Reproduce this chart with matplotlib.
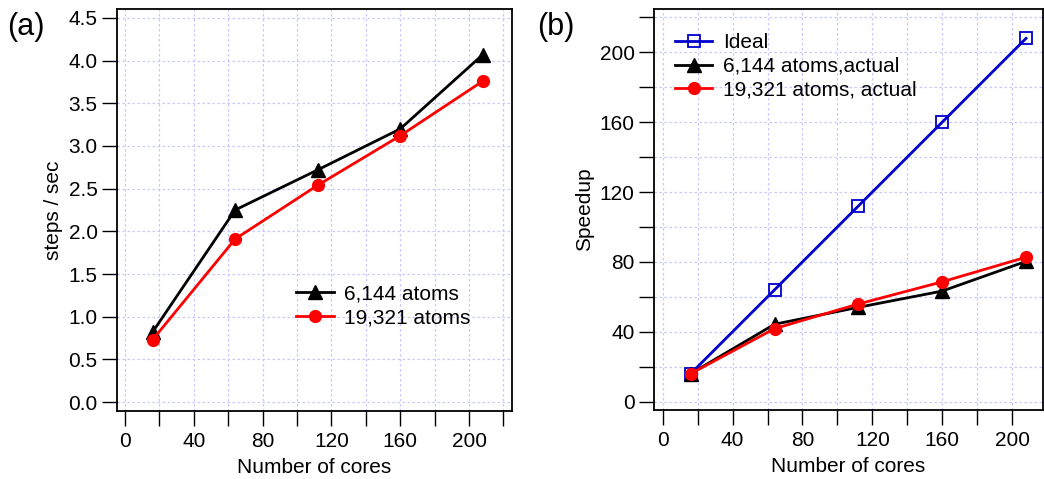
import matplotlib
matplotlib.use("Agg")
import matplotlib.pyplot as plt
from matplotlib.ticker import MultipleLocator, FormatStrFormatter

plt.rcParams['font.family'] = ['Liberation Sans', 'DejaVu Sans']

cores = [16, 64, 112, 160, 208]
steps_6144 = [0.82, 2.25, 2.72, 3.20, 4.07]
steps_19321 = [0.73, 1.91, 2.54, 3.12, 3.76]

ideal = [16, 64, 112, 160, 208]
speedup_6144 = [16, 44.3, 54, 63.3, 80.3]
speedup_19321 = [16, 41.8, 55.9, 68.6, 82.7]

grid_color = '#c8c8ff'
fs = 15

fig = plt.figure(figsize=(10.44, 4.79), dpi=100)
ax1 = fig.add_axes([117/1044, 1-411/479, 395/1044, 402/479])
ax2 = fig.add_axes([654/1044, 1-410/479, 389/1044, 401/479])

def style(ax):
    for s in ax.spines.values():
        s.set_linewidth(1.3)
    ax.xaxis.set_major_locator(MultipleLocator(40))
    ax.xaxis.set_minor_locator(MultipleLocator(20))
    ax.tick_params(axis='both', which='both', direction='out', length=11, width=1.0,
                   labelsize=fs, pad=3)
    ax.tick_params(axis='x', which='both', pad=4)
    ax.grid(True, which='both', color=grid_color, linestyle=(0, (2, 2)), linewidth=0.9)
    ax.set_axisbelow(True)
    ax.set_xlabel('Number of cores', fontsize=fs, labelpad=5)

leg_kw = dict(frameon=False, fontsize=fs, handlelength=1.8, handletextpad=0.5,
              labelspacing=0.22, borderaxespad=0)

# Panel (a)
ax1.plot(cores, steps_6144, color='black', lw=2, marker='^', ms=10, label='6,144 atoms')
ax1.plot(cores, steps_19321, color='red', lw=2, marker='o', ms=8.5, label='19,321 atoms')
ax1.set_xlim(-4.7, 225)
ax1.set_ylim(-0.105, 4.605)
ax1.yaxis.set_major_locator(MultipleLocator(0.5))
ax1.yaxis.set_major_formatter(FormatStrFormatter('%.1f'))
style(ax1)
ax1.yaxis.set_minor_locator(MultipleLocator(0.5))
ax1.set_ylabel('steps / sec', fontsize=fs, labelpad=4)
ax1.legend(loc='upper left', bbox_to_anchor=(0.433, 0.335), **leg_kw)
fig.text(0.007, 0.944, '(a)', fontsize=22, ha='left', va='center')

# Panel (b)
ax2.plot(cores, ideal, color='#0000cc', lw=2, marker='s', ms=8.5, mfc='none', mew=1.3, label='Ideal')
ax2.plot(cores, speedup_6144, color='black', lw=2, marker='^', ms=10, label='6,144 atoms,actual')
ax2.plot(cores, speedup_19321, color='red', lw=2, marker='o', ms=8.5, label='19,321 atoms, actual')
ax2.set_xlim(-5, 217.7)
ax2.set_ylim(-4.8, 224.8)
ax2.yaxis.set_major_locator(MultipleLocator(40))
style(ax2)
ax2.yaxis.set_minor_locator(MultipleLocator(20))
ax2.set_ylabel('Speedup', fontsize=fs, labelpad=4)
ax2.legend(loc='upper left', bbox_to_anchor=(0.032, 0.96), **leg_kw)
fig.text(0.5145, 0.944, '(b)', fontsize=22, ha='left', va='center')

fig.savefig('out.png', dpi=100)
